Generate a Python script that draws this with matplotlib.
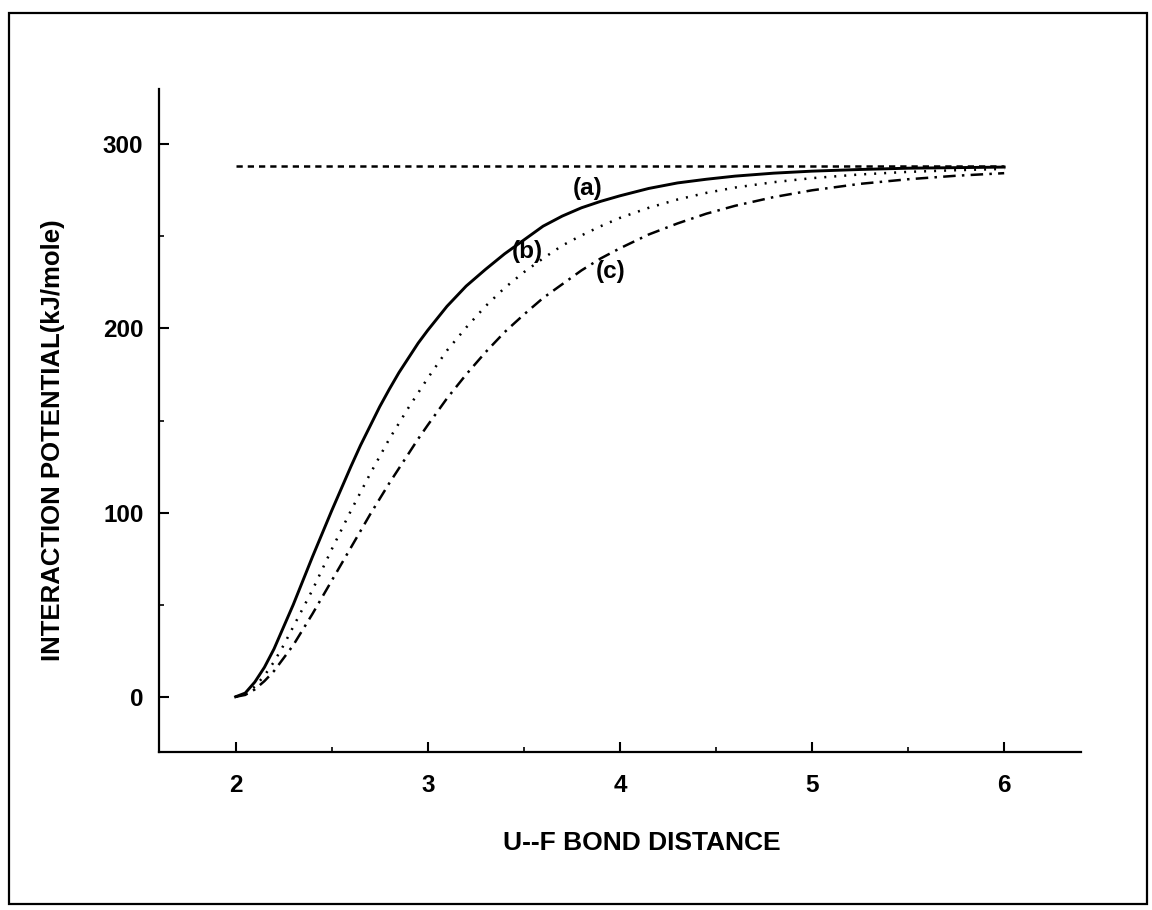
import numpy as np
import matplotlib.pyplot as plt
from matplotlib.patches import Rectangle
from matplotlib.ticker import MultipleLocator

plt.rcParams['font.family'] = ['Liberation Sans', 'DejaVu Sans']
plt.rcParams['font.weight'] = 'bold'

# U--F bond distance and the three potential curves
r = [2.0, 2.05, 2.1, 2.15, 2.2, 2.25, 2.3, 2.35, 2.4, 2.45, 2.5, 2.55, 2.6,
     2.65, 2.7, 2.75, 2.8, 2.85, 2.9, 2.95, 3.0,
     3.1, 3.2, 3.3, 3.4, 3.5, 3.6, 3.7, 3.8, 3.9, 4.0,
     4.15, 4.3, 4.45, 4.6, 4.8, 5.0, 5.25, 5.5, 5.75, 6.0]
pot_a = [0, 2, 8, 16, 26, 38, 50, 63, 76, 88.5, 101, 113, 125,
         136.5, 147, 157.5, 167, 176, 184, 192, 199,
         212, 223, 232, 240.5, 248, 255.5, 261, 265.5, 269, 272,
         276, 279, 281, 282.7, 284.3, 285.4, 286.3, 287, 287.3, 287.6]
pot_b = [0, 1.5, 5.5, 11.5, 19, 28, 38, 48, 58, 69, 80, 90.5, 101,
         111, 121, 130.5, 140, 148.5, 157, 165, 173,
         188, 200.5, 212, 222, 230.5, 238, 245, 250.5, 255.5, 260,
         265.5, 270, 273.6, 276.5, 279.4, 281.6, 283.6, 285, 285.9, 286.6]
pot_c = [0, 1, 4, 8.5, 14, 21, 28, 36.5, 45, 54, 63, 72, 81,
         90, 99, 107.5, 116, 124, 132, 140, 147.5,
         162, 175, 187, 198, 207.5, 216.5, 224, 231.5, 238, 243.5,
         251, 257, 262.3, 266.6, 271.3, 275, 278.5, 281, 282.9, 284.3]
dissoc = 288

curve_labels = ['(a)', '(b)', '(c)']
label_x = [3.83, 3.52, 3.95]
label_y = [276, 242, 231]

fig = plt.figure(figsize=(11.52, 9.10), dpi=100)
ax = fig.add_axes([0.1378, 0.1736, 0.8006, 0.7286])

ax.plot([r[0], r[-1]], [dissoc, dissoc], color='black', lw=1.8, ls=(0, (2.5, 2)))
ax.plot(r, pot_a, color='black', lw=2.1, ls='-', solid_joinstyle='round')
ax.plot(r, pot_b, color='black', lw=1.8, ls=(0, (0.8, 3.2)))
ax.plot(r, pot_c, color='black', lw=1.8, ls=(0, (5, 2.5, 1, 2.5)))

for t, x, y in zip(curve_labels, label_x, label_y):
    ax.text(x, y, t, ha='center', va='center', fontsize=17.5, fontweight='bold')

ax.set_xlim(1.6, 6.4)
ax.set_ylim(-30, 330)
ax.set_xticks([2, 3, 4, 5, 6])
ax.set_yticks([0, 100, 200, 300])
ax.xaxis.set_minor_locator(MultipleLocator(0.5))
ax.yaxis.set_minor_locator(MultipleLocator(50))
ax.tick_params(which='major', direction='in', length=7, width=1.5, labelsize=17.5)
ax.tick_params(which='minor', direction='in', length=3.5, width=1.2)
ax.tick_params(axis='x', which='major', pad=16)
ax.tick_params(axis='y', which='major', pad=11)

for s in ['top', 'right']:
    ax.spines[s].set_visible(False)
for s in ['left', 'bottom']:
    ax.spines[s].set_linewidth(1.6)

fig.text(642 / 1152, 1 - 843 / 910, 'U--F BOND DISTANCE', ha='center', va='center',
         fontsize=19, fontweight='bold')
fig.text(53 / 1152, 1 - 440 / 910, 'INTERACTION POTENTIAL(kJ/mole)', ha='center', va='center',
         rotation=90, fontsize=18.5, fontweight='bold')

# outer frame around the whole picture
fig.patches.append(Rectangle((9 / 1152, 1 - 904 / 910), (1147 - 9) / 1152, (904 - 13) / 910,
                             transform=fig.transFigure, fill=False, lw=1.6, ec='black'))

fig.savefig('out.png', dpi=100)
